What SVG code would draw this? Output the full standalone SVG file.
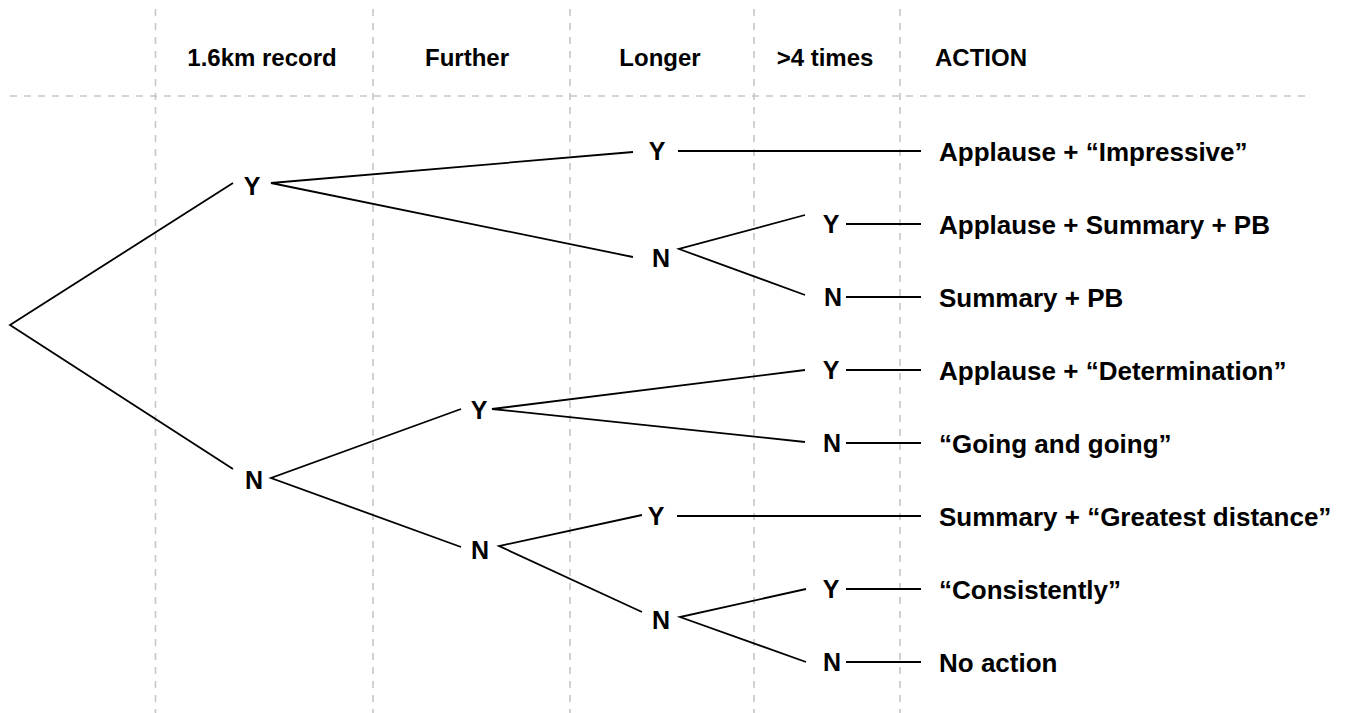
<svg xmlns="http://www.w3.org/2000/svg" width="1348" height="713" viewBox="0 0 1348 713">
<style>
.grid{stroke:#c6c6c6;stroke-width:1.6;stroke-dasharray:7 7;fill:none}
.edge{stroke:#000;stroke-width:1.8;fill:none;stroke-linecap:butt}
.hd{font-family:"Liberation Sans",Arial,sans-serif;font-weight:bold;font-size:24px;fill:#000}
.nd{font-family:"Liberation Sans",Arial,sans-serif;font-weight:bold;font-size:25px;fill:#000;text-anchor:middle}
.act{font-family:"Liberation Sans",Arial,sans-serif;font-weight:bold;font-size:26px;fill:#000}
</style>
<rect width="1348" height="713" fill="#fff"/>
<g id="grid">
<line class="grid" x1="155.5" y1="9" x2="155.5" y2="713"/>
<line class="grid" x1="373" y1="9" x2="373" y2="713"/>
<line class="grid" x1="570" y1="9" x2="570" y2="713"/>
<line class="grid" x1="754" y1="9" x2="754" y2="713"/>
<line class="grid" x1="900" y1="9" x2="900" y2="713"/>
<line class="grid" x1="10" y1="96" x2="1306" y2="96"/>
</g>
<g id="headers">
<text class="hd" x="262" y="66" text-anchor="middle">1.6km record</text>
<text class="hd" x="467" y="66" text-anchor="middle">Further</text>
<text class="hd" x="660" y="66" text-anchor="middle">Longer</text>
<text class="hd" x="825" y="66" text-anchor="middle">&gt;4 times</text>
<text class="hd" x="935" y="66">ACTION</text>
</g>
<g id="connectors">
<path class="edge" d="M233 183 L10 325 L233 469"/>
<path class="edge" d="M633 152 L271 183 L633 257"/>
<path class="edge" d="M461 409 L271 478 L461 547"/>
<path class="edge" d="M805 370 L492 409 L805 442"/>
<path class="edge" d="M642 515 L499 546 L642 612"/>
<path class="edge" d="M805 215 L679 249 L805 295"/>
<path class="edge" d="M806 589 L680 617 L806 662"/>
<line class="edge" x1="678" y1="151" x2="921" y2="151"/>
<line class="edge" x1="677" y1="516" x2="921" y2="516"/>
<line class="edge" x1="846" y1="224" x2="921" y2="224"/>
<line class="edge" x1="846" y1="297" x2="921" y2="297"/>
<line class="edge" x1="846" y1="370" x2="921" y2="370"/>
<line class="edge" x1="846" y1="443" x2="921" y2="443"/>
<line class="edge" x1="846" y1="589" x2="921" y2="589"/>
<line class="edge" x1="846" y1="662" x2="921" y2="662"/>
</g>
<g id="n-1y"><text class="nd" x="252" y="195">Y</text></g>
<g id="n-1n"><text class="nd" x="254" y="489">N</text></g>
<g id="n-2y"><text class="nd" x="479" y="419">Y</text></g>
<g id="n-2n"><text class="nd" x="480" y="559">N</text></g>
<g id="n-3y-a"><text class="nd" x="657" y="160">Y</text></g>
<g id="n-3n-a"><text class="nd" x="661" y="267">N</text></g>
<g id="n-3y-b"><text class="nd" x="656" y="525">Y</text></g>
<g id="n-3n-b"><text class="nd" x="661" y="629">N</text></g>
<g id="n-4y-a"><text class="nd" x="831" y="233">Y</text></g>
<g id="n-4n-a"><text class="nd" x="833" y="306">N</text></g>
<g id="n-4y-b"><text class="nd" x="831" y="379">Y</text></g>
<g id="n-4n-b"><text class="nd" x="832" y="452">N</text></g>
<g id="n-4y-c"><text class="nd" x="831" y="598">Y</text></g>
<g id="n-4n-c"><text class="nd" x="832" y="671">N</text></g>
<g id="a1"><text class="act" x="939" y="160.5">Applause + “Impressive”</text></g>
<g id="a2"><text class="act" x="939" y="233.5">Applause + Summary + PB</text></g>
<g id="a3"><text class="act" x="939" y="306.5">Summary + PB</text></g>
<g id="a4"><text class="act" x="939" y="379.5">Applause + “Determination”</text></g>
<g id="a5"><text class="act" x="939" y="452.5">“Going and going”</text></g>
<g id="a6"><text class="act" x="939" y="525.5">Summary + “Greatest distance”</text></g>
<g id="a7"><text class="act" x="939" y="598.5">“Consistently”</text></g>
<g id="a8"><text class="act" x="939" y="671.5">No action</text></g>
</svg>
